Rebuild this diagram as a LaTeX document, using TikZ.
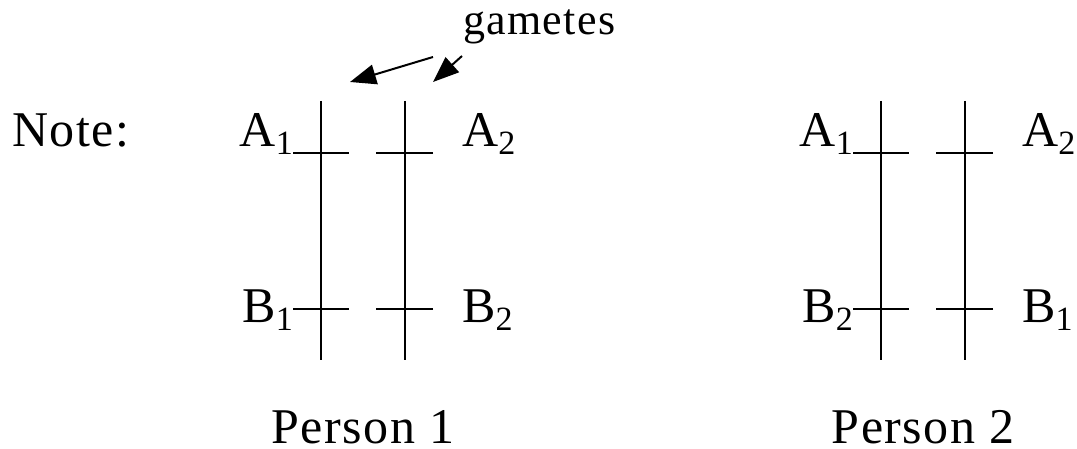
\documentclass[tikz,border=0pt]{standalone}
\usepackage{fontspec}
\setmainfont{Liberation Serif}[LetterSpace=3]
\usetikzlibrary{arrows.meta,positioning}
\tikzset{
  chrom/.style={line width=2pt, black},
  lbl/.style={inner sep=0pt, font=\fontsize{50}{60}\selectfont},
  gamlbl/.style={inner sep=0pt, font=\fontsize{44}{52}\selectfont},
  gamarrow/.style={line width=2pt, -{Triangle[length=26pt,width=20pt]}},
}
\newcommand{\allele}[2]{#1\raisebox{-8pt}{\fontsize{34}{34}\selectfont #2}}

\begin{document}
\begin{tikzpicture}[x=1pt, y=-1pt]
  \useasboundingbox (0,0) rectangle (1077,449);

  \node[lbl, anchor=base west] (note) at (12,147) {Note:};
  \node[gamlbl, anchor=base west] (gametes) at (463,35) {gametes};

  % one chromosome pair per person
  \foreach \px/\n/\bl/\br in {321/1/1/2, 881/2/2/1}{
    \coordinate (top\n l) at (\px,101);
    \coordinate (bot\n l) at (\px,360);
    \coordinate (top\n r) at (\px+84,101);
    \coordinate (bot\n r) at (\px+84,360);
    \draw[chrom] (top\n l) -- (bot\n l);
    \draw[chrom] (top\n r) -- (bot\n r);

    \coordinate (al\n) at (\px-28,153);
    \coordinate (bl\n) at (\px-28,309);
    \coordinate (ar\n) at (\px+112,153);
    \coordinate (br\n) at (\px+112,309);
    \draw[chrom] (al\n) -- ++(56,0);
    \draw[chrom] (bl\n) -- ++(56,0);
    \draw[chrom] (ar\n) -- ++(-57,0);
    \draw[chrom] (br\n) -- ++(-57,0);

    \node[lbl, anchor=base east] (a1\n) at (\px-28,147) {\allele{A}{1}};
    \node[lbl, anchor=base west] (a2\n) at (\px+141,147) {\allele{A}{2}};
    \node[lbl, anchor=base east] (bx\n) at (\px-28,323) {\allele{B}{\bl}};
    \node[lbl, anchor=base west] (by\n) at (\px+141,323) {\allele{B}{\br}};

    \node[lbl, anchor=base] (person\n) at (\px+42,443) {Person \n};
  }

  \coordinate (gs1) at (433,57);
  \coordinate (ge1) at (350,82);
  \coordinate (gs2) at (462,56);
  \coordinate (ge2) at (433,82);
  \draw[gamarrow] (gs1) -- (ge1);
  \draw[gamarrow] (gs2) -- (ge2);
\end{tikzpicture}
\end{document}
